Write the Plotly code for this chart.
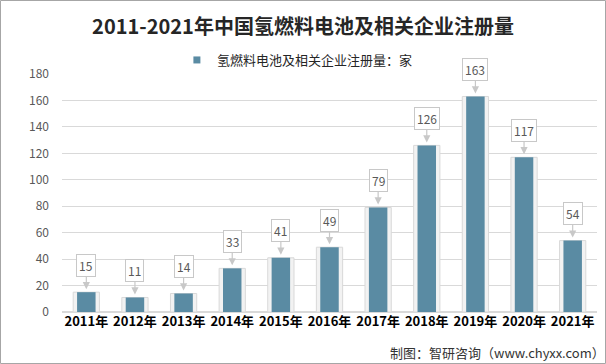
import plotly.graph_objects as go

years = ["2011年", "2012年", "2013年", "2014年", "2015年", "2016年", "2017年", "2018年", "2019年", "2020年", "2021年"]
counts = [15, 11, 14, 33, 41, 49, 79, 126, 163, 117, 54]
series_name = "氢燃料电池及相关企业注册量：家"
title_text = "2011-2021年中国氢燃料电池及相关企业注册量"
source_text = "制图：智研咨询（www.chyxx.com）"

bar_color = "#5A8BA3"
font_family = "Microsoft YaHei, Noto Sans CJK SC, sans-serif"

fig = go.Figure()
fig.add_trace(go.Bar(
    x=years, y=counts, width=0.54, marker=dict(color="#f2f2f2", line=dict(color="#d9d9d9", width=1)),
    showlegend=False, hoverinfo="skip"))
fig.add_trace(go.Bar(
    x=years, y=counts, width=0.38, marker=dict(color=bar_color, line=dict(width=0)),
    name=series_name, showlegend=False))
# legend entry with a small square swatch
fig.add_trace(go.Scatter(
    x=[None], y=[None], mode="markers", name=series_name,
    marker=dict(symbol="square", size=7, color=bar_color), showlegend=True))

for yr, v in zip(years, counts):
    fig.add_annotation(
        x=yr, y=v, text=str(v), showarrow=True, arrowhead=2, arrowsize=1.2, arrowwidth=1.2,
        arrowcolor="#c8c8c8", ax=0, ay=-24, yshift=3,
        bgcolor="white", bordercolor="#c8c8c8", borderwidth=1, borderpad=2,
        font=dict(size=12, color="#595959", family=font_family))

fig.add_annotation(
    xref="paper", yref="paper", x=1.0, y=-40/238, xanchor="right", yanchor="middle",
    xshift=10, text=source_text, showarrow=False,
    font=dict(size=13, color="#333333", family=font_family))

fig.add_shape(type="rect", xref="paper", yref="paper",
              x0=-61.5/535, x1=1 + 8.5/535, y0=-51.5/238, y1=1 + 73.5/238,
              line=dict(color="#a6a6a6", width=1))

fig.update_layout(
    width=606, height=364,
    margin=dict(l=62, r=9, t=74, b=52),
    paper_bgcolor="white", plot_bgcolor="white",
    barmode="overlay",
    title=dict(text="<b>" + title_text + "</b>", x=0.5, xref="container", xanchor="center",
               y=1 - 27/364, yanchor="middle",
               font=dict(size=20, color="#262626", family=font_family)),
    legend=dict(orientation="h", x=0.44, xanchor="center", y=1 + 14/238, yanchor="middle",
                font=dict(size=13, color="#262626", family=font_family),
                itemwidth=30, bgcolor="rgba(0,0,0,0)"),
    xaxis=dict(tickfont=dict(size=13, color="#000000", family=font_family),
               showgrid=False, showline=False, ticks=""),
    yaxis=dict(range=[0, 180], dtick=20, showgrid=True, gridcolor="#d9d9d9",
               zeroline=True, zerolinecolor="#d9d9d9",
               tickfont=dict(size=12, color="#595959", family=font_family),
               ticks="", ticklabelstandoff=12),
    bargap=0.2,
)
fig.update_xaxes(tickprefix="<b>", ticksuffix="</b>")

fig.write_html("out.html", config={"displayModeBar": False},
               post_script="document.body.style.margin='0';")
